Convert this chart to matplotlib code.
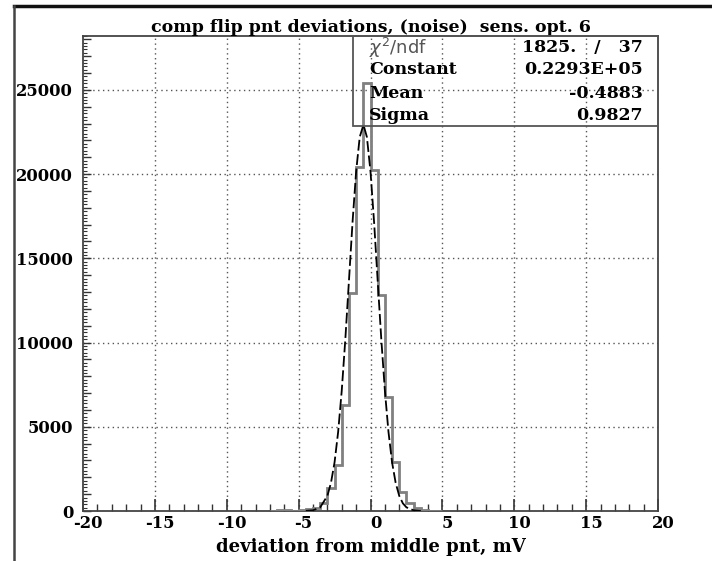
import numpy as np
import matplotlib
matplotlib.use("Agg")
import matplotlib.pyplot as plt
import matplotlib.transforms as mtransforms
from matplotlib.ticker import MultipleLocator, FuncFormatter
from matplotlib.lines import Line2D

# ---------------- data ----------------
bin_edges = [-7.0, -6.5, -6.0, -5.5, -5.0, -4.5, -4.0, -3.5, -3.0, -2.5, -2.0, -1.5,
             -1.0, -0.5, 0.0, 0.5, 1.0, 1.5, 2.0, 2.5, 3.0, 3.5, 4.0, 4.5, 5.0]
counts = [10, 40, 30, 20, 50, 90, 180, 475, 1370, 2730, 6300, 12950,
          20400, 25400, 20250, 12800, 6770, 2900, 1100, 450, 180, 60, 20, 10]

fit_x = [-4.5, -4.0, -3.5, -3.0, -2.75, -2.5, -2.25, -2.0, -1.75, -1.5, -1.25, -1.0,
         -0.75, -0.49, -0.25, 0.0, 0.25, 0.5, 0.75, 1.0, 1.25, 1.5, 1.75, 2.0,
         2.25, 2.5, 3.0, 3.5]
fit_y = [6, 40, 217, 900, 1670, 2890, 4700, 7150, 10210, 13660, 17140, 20150,
         22200, 22930, 22200, 20150, 17140, 13660, 10210, 7150, 4700, 2890,
         1670, 900, 457, 217, 40, 6]

title = "comp flip pnt deviations, (noise)  sens. opt. 6"
xlabel = "deviation from middle pnt, mV"
stat_labels = ["Constant", "Mean", "Sigma"]
stat_values = ["0.2293E+05", "-0.4883", "0.9827"]
chi2_text = "1825.   /   37"

x_major = [-20, -15, -10, -5, 0, 5, 10, 15, 20]
y_major = [0, 5000, 10000, 15000, 20000, 25000]

# ---------------- figure ----------------
W, H = 712, 561
fig = plt.figure(figsize=(W / 100, H / 100), dpi=100)
fig.patch.set_facecolor("white")

L, R, T, B = 83, 658, 36, 511
ax = fig.add_axes([L / W, (H - B) / H, (R - L) / W, (B - T) / H])
ax.set_xlim(-20, 20)
ax.set_ylim(0, 28200)

serif = "DejaVu Serif"
stat_font = dict(family=serif, weight="bold", size=12.5)

# grid
for gx in x_major[1:-1]:
    ax.axvline(gx, color="#555555", lw=1.0, ls=(0, (1, 2.5)), zorder=1)
for gy in y_major[1:]:
    ax.axhline(gy, color="#555555", lw=1.0, ls=(0, (1, 2.5)), zorder=1)

# histogram
ax.stairs(counts, bin_edges, color="#808080", lw=2.0, zorder=3)
# fit curve
ax.plot(fit_x, fit_y, color="black", lw=1.3, ls=(0, (6, 2)), zorder=4)

# ticks
ax.xaxis.set_major_locator(MultipleLocator(5))
ax.xaxis.set_minor_locator(MultipleLocator(1))
ax.yaxis.set_major_locator(MultipleLocator(1000))
ax.yaxis.set_minor_locator(MultipleLocator(200))
ax.yaxis.set_major_formatter(FuncFormatter(lambda v, p: f"{int(v)}" if int(round(v)) % 5000 == 0 else ""))
ax.xaxis.set_major_formatter(FuncFormatter(lambda v, p: f"{int(v)}"))
ax.tick_params(axis="both", which="both", direction="in", color="#333333",
               top=False, right=False)
ax.tick_params(axis="x", which="major", length=9, width=1.2, pad=3)
ax.tick_params(axis="x", which="minor", length=5, width=1.0)
ax.tick_params(axis="y", which="major", length=6, width=1.0, pad=7)
ax.tick_params(axis="y", which="minor", length=3, width=0.8)
shift = mtransforms.ScaledTranslation(5 / 100, 0, fig.dpi_scale_trans)
for lab in ax.get_xticklabels():
    lab.set_transform(lab.get_transform() + shift)
for lab in ax.get_xticklabels() + ax.get_yticklabels():
    lab.set_fontfamily(serif)
    lab.set_fontweight("bold")
    lab.set_fontsize(11.8)
for s in ax.spines.values():
    s.set_color("#444444")
    s.set_linewidth(1.3)

ax.set_xlabel(xlabel, fontfamily=serif, fontweight="bold", fontsize=13, labelpad=4)
ax.set_title(title, fontfamily=serif, fontweight="bold", fontsize=12.5, pad=2)

# stats box
bx0 = (353 - L) / (R - L)
by0 = (B - 126) / (B - T)
ax.add_patch(plt.Rectangle((bx0, by0), 1 - bx0, 1 - by0, transform=ax.transAxes,
                           fill=False, edgecolor="#555555", lw=1.3, zorder=5, clip_on=False))
row_px = [48, 70, 93, 115]
row_y = [(B - r) / (B - T) for r in row_px]
lab_x = (369 - L) / (R - L)
val_x = (643 - L) / (R - L)
ax.text(lab_x, row_y[0], r"$\chi^2$/ndf", transform=ax.transAxes, ha="left", va="center",
        fontsize=13, color="#555555", family="DejaVu Sans", zorder=6)
ax.text(val_x, row_y[0], chi2_text, transform=ax.transAxes, ha="right", va="center",
        zorder=6, **stat_font)
for i, (lab, val) in enumerate(zip(stat_labels, stat_values)):
    ax.text(lab_x, row_y[i + 1], lab, transform=ax.transAxes, ha="left", va="center",
            zorder=6, **stat_font)
    ax.text(val_x, row_y[i + 1], val, transform=ax.transAxes, ha="right", va="center",
            zorder=6, **stat_font)

# outer frame lines
fig.add_artist(Line2D([14 / W, 1.0], [1 - 6 / H, 1 - 6 / H], color="#111111", lw=2.5,
                      transform=fig.transFigure))
fig.add_artist(Line2D([14 / W, 14 / W], [0, 1 - 6 / H], color="#444444", lw=1.8,
                      transform=fig.transFigure))

fig.savefig("out.png", dpi=100, facecolor="white")
